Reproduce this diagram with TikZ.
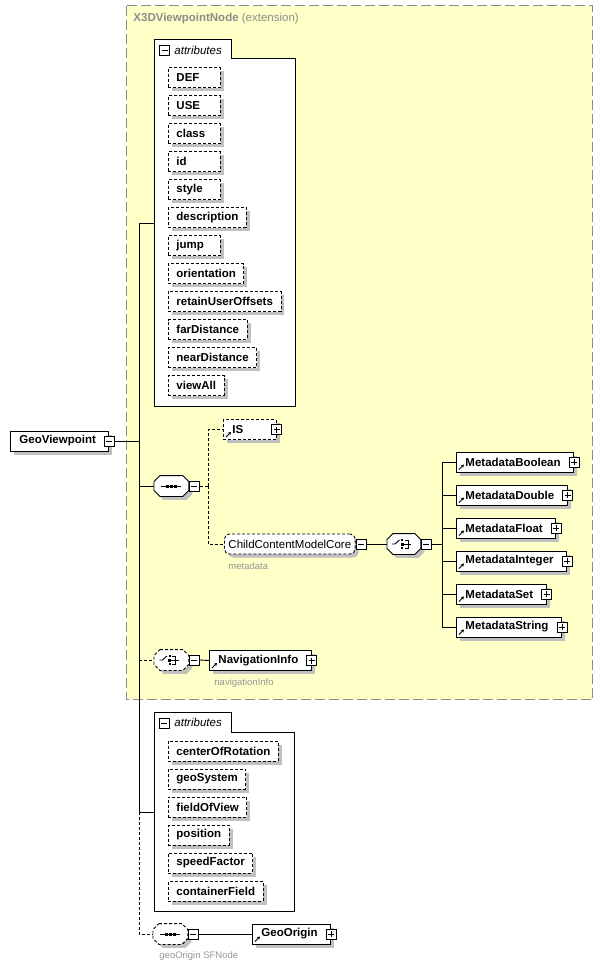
\documentclass[tikz,border=0pt]{standalone}
\usepackage{fontspec}
\setmainfont{Liberation Sans}
\usetikzlibrary{shadows,arrows.meta}
\definecolor{extfill}{RGB}{255,255,200}
\definecolor{extline}{RGB}{140,140,140}
\definecolor{shadowgray}{RGB}{192,192,192}
\definecolor{labelgray}{RGB}{150,150,150}
\newcommand\compframe[2][]{\draw[#1,fill=white,boxshadow] ([xshift=6pt]#2.north west)
  -- ([xshift=-6pt]#2.north east) -- ([yshift=-6pt]#2.north east) -- ([yshift=6pt]#2.south east)
  -- ([xshift=-6pt]#2.south east) -- ([xshift=6pt]#2.south west) -- ([yshift=6pt]#2.south west)
  -- ([yshift=-6pt]#2.north west) -- cycle;}
\newcommand\seqicon[1]{\begin{scope}[shift={(#1.center)}]
  \draw (-10pt,0pt) -- (10pt,0pt);
  \fill (-5.5pt,-1.5pt) rectangle (-2.5pt,1.5pt);
  \fill (-1.5pt,-1.5pt) rectangle (1.5pt,1.5pt);
  \fill (2.5pt,-1.5pt) rectangle (5.5pt,1.5pt);
  \end{scope}}
\newcommand\choiceicon[1]{\begin{scope}[shift={(#1.center)}]
  \draw (-12pt,0pt) -- (-9pt,0pt) -- (-4.5pt,4pt);
  \fill (-2.5pt,3pt) rectangle (-0.5pt,5pt);
  \fill (-3pt,-1.5pt) rectangle (0pt,1.5pt);
  \fill (-2.5pt,-5pt) rectangle (-0.5pt,-3pt);
  \draw (1pt,4pt) -- (4pt,4pt) -- (4pt,-4pt) -- (1pt,-4pt);
  \draw (0pt,0pt) -- (7.5pt,0pt);
  \end{scope}}
\tikzset{
  minleft/.style={execute at begin node={\setbox0\hbox\bgroup},
    execute at end node={\egroup\ifdim\wd0<#1\hbox to #1{\box0\hfil}\else\box0\fi}},
  boxshadow/.style={drop shadow={shadow xshift=3.5pt,shadow yshift=-3.5pt,fill=shadowgray,opacity=1}},
  optline/.style={dash pattern=on 3pt off 2pt},
  panel/.style={draw,fill=white},
  attr/.style={draw,optline,fill=white,boxshadow,font=\bfseries,anchor=west,
    minimum height=20pt,inner xsep=8pt,minleft=36pt},
  elem/.style={draw,fill=white,boxshadow,font=\bfseries,anchor=west,
    minimum height=20pt,inner xsep=9pt,minleft=31pt,execute at end node={\hspace{4pt}}},
  refbox/.style={elem,path picture={\draw[solid,-{Stealth[length=3pt,width=3.5pt]}]
    ([shift={(2.5pt,2.5pt)}]path picture bounding box.south west) -- ++(5pt,5pt);}},
  groupbox/.style={draw,optline,rounded corners=5pt,fill=white,boxshadow,anchor=west,
    minimum height=20pt,inner xsep=4pt},
  fieldlabel/.style={anchor=west,inner sep=0pt,text=labelgray,font=\fontsize{9.5pt}{11pt}\selectfont},
  pmbox/.style={draw,solid,fill=white,minimum size=10pt,inner sep=0pt},
  pmminus/.style={pmbox,path picture={\draw ([xshift=2pt]path picture bounding box.west)
    -- ([xshift=-2pt]path picture bounding box.east);}},
  pmplus/.style={pmbox,path picture={\draw ([xshift=2pt]path picture bounding box.west)
    -- ([xshift=-2pt]path picture bounding box.east); \draw ([yshift=2pt]path picture bounding box.south)
    -- ([yshift=-2pt]path picture bounding box.north);}},
  compbox/.style={minimum width=34pt,minimum height=20pt,inner sep=0pt,anchor=west}
}
\begin{document}
\begin{tikzpicture}[x=1pt,y=-1pt,line width=0.9pt]
  \fontsize{11.5pt}{14pt}\selectfont
  \useasboundingbox (0,0) rectangle (603,969);
  \fill[extfill] (126.5,5.5) rectangle (592.5,699.5);
  \draw[extline,dash pattern=on 10pt off 4pt] (126.5,5.5) rectangle (592.5,699.5);
  \node[anchor=west,inner sep=0pt,text=extline] (title) at (133,19) {\textbf{X3DViewpointNode} (extension)};

  \draw[panel] (154,406) -- (154,39) -- (231,39) -- (231,58) -- (295,58) -- (295,406) -- cycle;
  \node[pmminus] (attrs1-m) at (164.5,50.5) {};
  \node[anchor=west,inner sep=0pt,font=\itshape] (attrs1-t) at (174,50) {attributes};
  \node[attr] (DEF) at (168,77.5) {DEF};
  \node[attr] (USE) at (168,105.5) {USE};
  \node[attr] (class) at (168,133.5) {class};
  \node[attr] (id) at (168,161.5) {id};
  \node[attr] (style) at (168,189.5) {style};
  \node[attr] (description) at (168,217.5) {description};
  \node[attr] (jump) at (168,245.5) {jump};
  \node[attr] (orientation) at (168,273.5) {orientation};
  \node[attr] (retainUserOffsets) at (168,301.5) {retainUserOffsets};
  \node[attr] (farDistance) at (168,329.5) {farDistance};
  \node[attr] (nearDistance) at (168,357.5) {nearDistance};
  \node[attr] (viewAll) at (168,385.5) {viewAll};

  \coordinate (spine1) at (139,223);
  \coordinate (spine2) at (139,812);
  \coordinate (spine3) at (139,934);
  \coordinate (attrs1) at (154,223);
  \coordinate (attrs2) at (154,812);
  \draw (spine1) -- (spine2);
  \draw (spine1) -- (attrs1);

  \node[elem] (GeoViewpoint) at (10,441) {GeoViewpoint};
  \node[pmminus] (GeoViewpoint-m) at (GeoViewpoint.east) {};
  \draw (GeoViewpoint-m.east) -- (spine1 |- GeoViewpoint-m.east);

  \node[compbox] (seq1) at (154,486) {};
  \compframe{seq1}
  \seqicon{seq1}
  \node[pmminus,anchor=west] (seq1-m) at (seq1.east) {};
  \draw (spine1 |- seq1.west) -- (seq1.west);
  \coordinate (fork1) at (208,486);
  \draw[optline] (seq1-m.east) -- (fork1);

  \node[refbox,optline] (IS) at (223,429.5) {IS};
  \node[pmplus] (IS-p) at (IS.east) {};
  \draw[optline] (fork1) |- (IS.west);

  \node[groupbox] (ChildContentModelCore) at (224,544) {ChildContentModelCore};
  \node[pmminus,anchor=west] (ChildContentModelCore-m) at (ChildContentModelCore.east) {};
  \node[fieldlabel] (ChildContentModelCore-label) at (228,566) {metadata};
  \draw[optline] (fork1) |- (ChildContentModelCore.west);

  \node[compbox,minimum width=33pt] (choice1) at (387,544) {};
  \compframe{choice1}
  \choiceicon{choice1}
  \node[pmminus,anchor=west] (choice1-m) at (choice1.east) {};
  \draw (ChildContentModelCore-m.east) -- (choice1.west);
  \coordinate (fork2) at (442,544);
  \draw (choice1-m.east) -- (fork2);

  \node[refbox] (MetadataBoolean) at (456,462) {MetadataBoolean};
  \node[pmplus] (MetadataBoolean-p) at (MetadataBoolean.east) {};
  \node[refbox] (MetadataDouble) at (456,495) {MetadataDouble};
  \node[pmplus] (MetadataDouble-p) at (MetadataDouble.east) {};
  \node[refbox] (MetadataFloat) at (456,528) {MetadataFloat};
  \node[pmplus] (MetadataFloat-p) at (MetadataFloat.east) {};
  \node[refbox] (MetadataInteger) at (456,561) {MetadataInteger};
  \node[pmplus] (MetadataInteger-p) at (MetadataInteger.east) {};
  \node[refbox] (MetadataSet) at (456,594) {MetadataSet};
  \node[pmplus] (MetadataSet-p) at (MetadataSet.east) {};
  \node[refbox] (MetadataString) at (456,627) {MetadataString};
  \node[pmplus] (MetadataString-p) at (MetadataString.east) {};
  \draw (fork2) |- (MetadataBoolean.west);
  \draw (fork2) |- (MetadataDouble.west);
  \draw (fork2) |- (MetadataFloat.west);
  \draw (fork2) |- (MetadataInteger.west);
  \draw (fork2) |- (MetadataSet.west);
  \draw (fork2) |- (MetadataString.west);

  \node[compbox] (choice2) at (154,660) {};
  \compframe[optline]{choice2}
  \choiceicon{choice2}
  \node[pmminus,anchor=west] (choice2-m) at (choice2.east) {};
  \draw[optline] (spine1 |- choice2.west) -- (choice2.west);
  \node[refbox] (NavigationInfo) at (209,660.5) {NavigationInfo};
  \node[pmplus] (NavigationInfo-p) at (NavigationInfo.east) {};
  \node[fieldlabel] (NavigationInfo-label) at (214,683) {navigationInfo};
  \draw (choice2-m.east) -- (NavigationInfo.west);

  \draw[panel] (154,911) -- (154,712) -- (231,712) -- (231,732) -- (294,732) -- (294,911) -- cycle;
  \node[pmminus] (attrs2-m) at (164,723) {};
  \node[anchor=west,inner sep=0pt,font=\itshape] (attrs2-t) at (174,722.5) {attributes};
  \node[attr] (centerOfRotation) at (168,751) {centerOfRotation};
  \node[attr] (geoSystem) at (168,779) {geoSystem};
  \node[attr] (fieldOfView) at (168,807) {fieldOfView};
  \node[attr] (position) at (168,835) {position};
  \node[attr] (speedFactor) at (168,863) {speedFactor};
  \node[attr] (containerField) at (168,891) {containerField};
  \draw (spine2) -- (attrs2);

  \node[compbox] (seq2) at (153,934) {};
  \compframe[optline]{seq2}
  \seqicon{seq2}
  \node[pmminus,anchor=west] (seq2-m) at (seq2.east) {};
  \draw[optline] (spine2) -- (spine3) -- (seq2.west);
  \node[refbox] (GeoOrigin) at (252,934) {GeoOrigin};
  \node[pmplus] (GeoOrigin-p) at (GeoOrigin.east) {};
  \node[fieldlabel] (GeoOrigin-label) at (159,956) {geoOrigin SFNode};
  \draw (seq2-m.east) -- (GeoOrigin.west);
\end{tikzpicture}
\end{document}
